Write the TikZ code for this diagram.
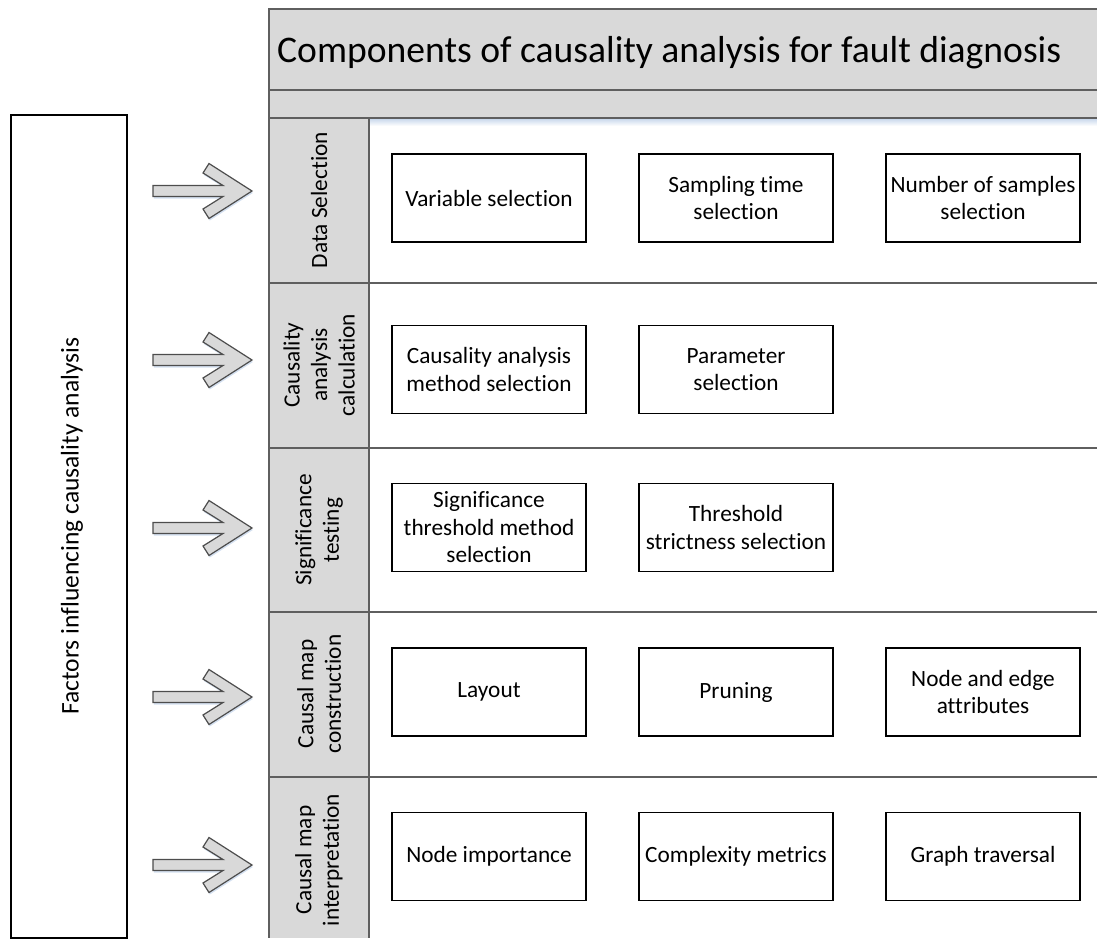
\documentclass[tikz,border=0pt]{standalone}
\usepackage{fontspec}
\setmainfont{Carlito}[Ligatures={NoCommon}]
\usetikzlibrary{shadows}

\definecolor{cellgray}{HTML}{D9D9D9}
\definecolor{rulegray}{HTML}{5F5F5F}
\definecolor{arrowline}{HTML}{4D4D4D}
\definecolor{glow}{HTML}{C9D8EC}

\tikzset{
  rule/.style={draw=rulegray, line width=1.4pt},
  itembox/.style={draw=black, line width=1.3pt, fill=white,
    minimum width=194pt, minimum height=88pt, inner sep=0pt,
    align=center, font=\fontsize{23.3}{27.5}\selectfont},
  rowlabel/.style={rotate=90, align=center, inner sep=0pt,
    font=\fontsize{23.3}{27.5}\selectfont},
  pics/blockarrow/.style={code={
    \draw[fill=cellgray, draw=arrowline, line width=1.2pt, line join=miter,
      drop shadow={shadow xshift=0.8pt, shadow yshift=-2pt, fill=glow, opacity=0.8}]
      (0,-5.5) -- (70,-5.5) -- (50,-18) -- (56,-27.5) -- (99,0)
      -- (56,27.5) -- (50,18) -- (70,5.5) -- (0,5.5) -- cycle;
  }}
}

\begin{document}
\begin{tikzpicture}[x=1pt, y=-1pt]
  \useasboundingbox (0,0) rectangle (1097,938);

  % header band and grey label column
  \fill[cellgray] (269,9) rectangle (1097,118);
  \fill[cellgray] (269,118) rectangle (369,938);
  \shade[top color=glow, bottom color=white] (370,118.7) rectangle (1097,126);

  % table rules
  \draw[rule] (1097,9) -- (269,9) -- (269,938);
  \draw[rule] (269,90) -- (1097,90);
  \foreach \yy in {118,283,448,612,777}
    \draw[rule] (269,\yy) -- (1097,\yy);
  \draw[rule] (369,118) -- (369,938);

  % title
  \node[anchor=base west, inner sep=0pt, font=\fontsize{37.6}{45}\selectfont]
    (title) at (277,62) {Components of causality analysis for fault diagnosis};

  % left factor panel
  \node[draw=black, line width=1.2pt, minimum width=116pt, minimum height=823pt,
    inner sep=0pt] (factors) at (69,526.5) {};
  \node[rowlabel, font=\fontsize{25.5}{30}\selectfont] (factorslabel)
    at (72,526) {Factors influencing causality analysis};

  % block arrows
  \foreach \yy/\nm in {191/a1,360/a2,528/a3,697/a4,865/a5}
    \pic (\nm) at (153,\yy) {blockarrow};

  % row labels
  \node[rowlabel] (rl1) at (319,200) {Data Selection};
  \node[rowlabel] (rl2) at (319,365) {Causality\\analysis\\calculation};
  \node[rowlabel] (rl3) at (319,530) {Significance\\testing};
  \node[rowlabel] (rl4) at (319,694) {Causal map\\construction};
  \node[rowlabel] (rl5) at (319,860) {Causal map\\interpretation};

  % row 1
  \node[itembox] (b11) at (489,198) {Variable selection};
  \node[itembox] (b12) at (736,198) {Sampling time\\selection};
  \node[itembox] (b13) at (983,198) {Number of samples\\selection};
  % row 2
  \node[itembox] (b21) at (489,369.5) {Causality analysis\\method selection};
  \node[itembox] (b22) at (736,369.5) {Parameter\\selection};
  % row 3
  \node[itembox] (b31) at (489,527.5) {Significance\\threshold method\\selection};
  \node[itembox] (b32) at (736,527.5) {Threshold\\strictness selection};
  % row 4
  \node[itembox] (b41) at (489,692) {Layout};
  \node[itembox] (b42) at (736,692) {Pruning};
  \node[itembox] (b43) at (983,692) {Node and edge\\attributes};
  % row 5
  \node[itembox] (b51) at (489,856.5) {Node importance};
  \node[itembox] (b52) at (736,856.5) {Complexity metrics};
  \node[itembox] (b53) at (983,856.5) {Graph traversal};
\end{tikzpicture}
\end{document}
